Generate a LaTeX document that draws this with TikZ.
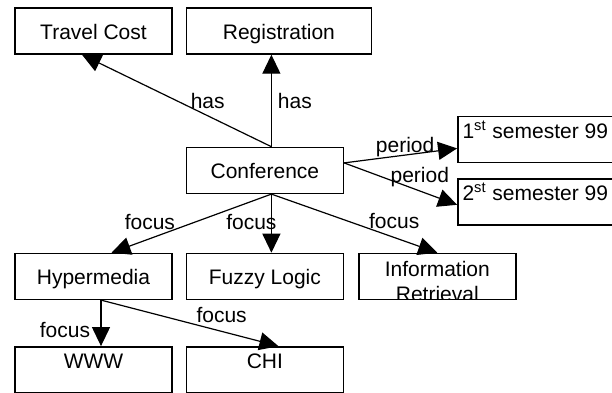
\documentclass[tikz,border=0pt]{standalone}
\usepackage{fontspec}
\setmainfont{Liberation Sans}
\usetikzlibrary{positioning, arrows.meta}

\begin{document}
\begin{tikzpicture}[
  font=\fontsize{10.5}{12}\selectfont,
  node distance=6.5pt,
  box/.style={draw, line width=0.7pt, minimum width=78.5pt, minimum height=23pt, inner sep=0pt,
    text height=8pt, text depth=0pt, align=center},
  topbox/.style={box, text height=11pt, text depth=12pt},
  lbl/.style={inner sep=0pt},
  ->, >={Triangle[length=9.5pt, width=9pt]}, line width=0.6pt
]
\useasboundingbox (0,0) rectangle (306pt,-196pt);

% Row 1: attributes
\node[box] (tc) at (46.75pt,-15.5pt) {Travel Cost};
\node[box, minimum width=92.5pt, right=of tc] (reg) {Registration};

% Row 2: conference and periods
\node[box, below=46pt of reg.south west, anchor=north west] (conf) {Conference};
\node[topbox, minimum width=77.5pt, right=56.5pt of conf.north east, anchor=north west, yshift=15.5pt] (sem1) {1\textsuperscript{st} semester 99};
\node[topbox, minimum width=77.5pt, below=7.5pt of sem1] (sem2) {2\textsuperscript{st} semester 99};

% Row 3: topics
\node[box, below=99pt of tc] (hyp) {Hypermedia};
\node[box, right=of hyp] (fuzzy) {Fuzzy Logic};
\node[box, right=7pt of fuzzy, path picture={
  \node[draw=none, inner sep=0pt, minimum width=0pt, minimum height=0pt, text height=, text depth=,
    align=center, anchor=north, font=\fontsize{10.5}{12.4}\selectfont]
    at ([yshift=-3.5pt]path picture bounding box.north) {Information\\Retrieval};}] (ir) {};

% Row 4: sub-topics
\node[topbox, below=23pt of hyp] (www) {WWW};
\node[topbox, right=of www] (chi) {CHI};

\draw ([xshift=3.25pt]conf.north) -- node[lbl, pos=.5, xshift=15.5pt] {has} ([xshift=-5.75pt]tc.south);
\draw ([xshift=3.25pt]conf.north) -- node[lbl, pos=.5, xshift=11.75pt] {has} ([xshift=-3.75pt]reg.south);
\draw ([yshift=3.75pt]conf.east) -- node[lbl, pos=.54, yshift=4pt] {period} ([yshift=-4.5pt]sem1.west);
\draw ([yshift=3.75pt]conf.east) -- node[lbl, pos=.67, yshift=7pt] {period} ([yshift=-1.5pt]sem2.west);
\draw ([xshift=3.25pt]conf.south) -- node[lbl, pos=.76, yshift=8.5pt] {focus} ([xshift=9pt]hyp.north);
\draw ([xshift=3.25pt]conf.south) -- node[lbl, pos=.48, xshift=-10pt] {focus} ([xshift=3.25pt]fuzzy.north);
\draw ([xshift=3.25pt]conf.south) -- node[lbl, pos=.74, yshift=8pt] {focus} (ir.north);
\draw ([xshift=3.75pt]hyp.south) -- node[lbl, pos=.64, xshift=-18pt] {focus} ([xshift=3.75pt]www.north);
\draw ([xshift=3.75pt]hyp.south) -- node[lbl, pos=.68, yshift=8.4pt] {focus} ([xshift=6.75pt]chi.north);
\end{tikzpicture}
\end{document}
